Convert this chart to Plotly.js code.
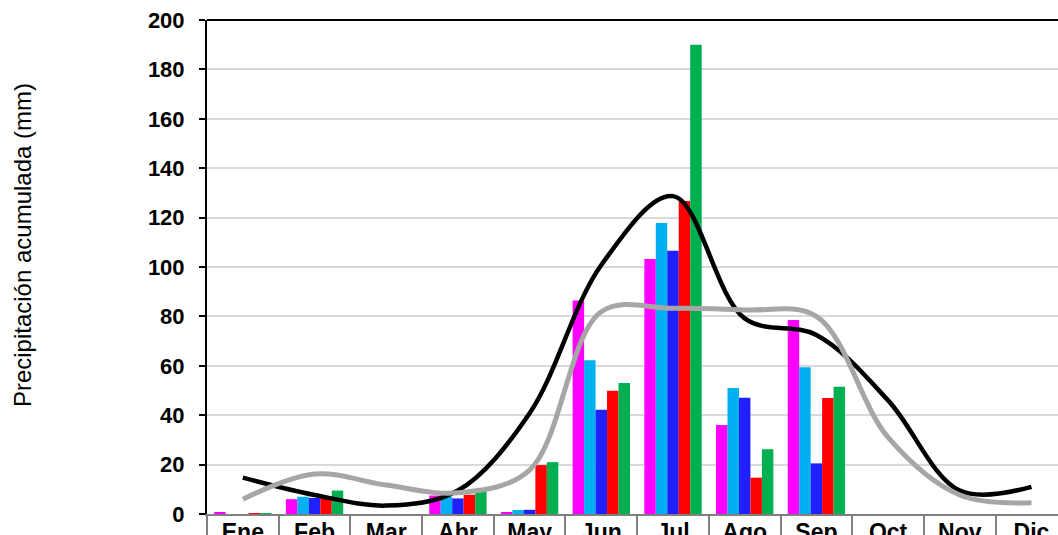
<!DOCTYPE html>
<html>
<head>
<meta charset="utf-8">
<script src="https://cdn.plot.ly/plotly-3.0.1.min.js"></script>
<style>html,body{margin:0;padding:0;background:#fff;overflow:hidden;}#chart{width:1058px;height:535px;}</style>
</head>
<body>
<div id="chart"></div>
<script>
const months = ["Ene","Feb","Mar","Abr","May","Jun","Jul","Ago","Sep","Oct","Nov","Dic"];
const serie1 = [0.8, 6, null, 7.5, 0.8, 86.4, 103.2, 36, 78.5, null, null, null];
const serie2 = [0, 7, null, 7, 1.6, 62.2, 117.8, 51, 59.4, null, null, null];
const serie3 = [0, 6.5, null, 6.3, 1.7, 42.2, 106.6, 47.1, 20.5, null, null, null];
const serie4 = [0.4, 6.5, null, 7.8, 19.8, 49.9, 126.7, 14.7, 47, null, null, null];
const serie5 = [0.4, 9.5, null, 9.8, 21, 53, 190, 26.2, 51.5, null, null, null];
const lineaNegra = [14.7, 7.7, 3.4, 9.5, 40.8, 100.8, 128.7, 79.2, 72.5, 46, 9.5, 11];
const lineaGris = [6, 16.2, 11.7, 8.6, 17.8, 81.9, 83.3, 82.6, 80, 31, 7.7, 4.6];
const yTitle = "Precipitación acumulada (mm)";

const barColors = ["#FF00FF", "#00B0F0", "#2020FF", "#FF0000", "#00B050"];
const barSeries = [serie1, serie2, serie3, serie4, serie5];
const traces = barSeries.map((s, i) => ({
  type: "bar", x: months, y: s, name: "Serie " + (i + 1),
  marker: {color: barColors[i], line: {width: 0}}, hoverinfo: "x+y"
}));
traces.push({type: "scatter", mode: "lines", x: months, y: lineaNegra, name: "Línea negra",
  line: {color: "#000000", width: 4.5, shape: "spline", smoothing: 1}});
traces.push({type: "scatter", mode: "lines", x: months, y: lineaGris, name: "Línea gris",
  line: {color: "#A6A6A6", width: 5, shape: "spline", smoothing: 1}});

const layout = {
  width: 1058, height: 535,
  margin: {l: 207, r: 0, t: 20, b: 21, pad: 0},
  paper_bgcolor: "#ffffff", plot_bgcolor: "#ffffff",
  showlegend: false,
  barmode: "group", bargap: 0.2, bargroupgap: 0,
  font: {family: "Liberation Sans, Arial, sans-serif", color: "#000"},
  xaxis: {
    type: "category", range: [-0.5, 11.37],
    showline: true, linecolor: "#808080", linewidth: 2,
    ticks: "outside", tickson: "boundaries", ticklen: 30, tickcolor: "#808080", tickwidth: 2,
    ticklabelstandoff: -4,
    tickfont: {size: 23, family: "Liberation Sans, Arial, sans-serif", color: "#000", weight: "bold"},
    showgrid: false, zeroline: false, fixedrange: true
  },
  yaxis: {
    range: [0, 200], dtick: 20, tick0: 0,
    showline: true, linecolor: "#000", linewidth: 2,
    ticks: "outside", ticklen: 6, tickcolor: "#000", tickwidth: 2,
    ticklabelstandoff: 10,
    tickfont: {size: 22, family: "Liberation Sans, Arial, sans-serif", color: "#000", weight: "bold"},
    showgrid: true, gridcolor: "#D9D9D9", gridwidth: 2,
    zeroline: false, fixedrange: true
  },
  shapes: [{type: "line", xref: "paper", yref: "paper", x0: 0, x1: 1, y0: 1, y1: 1,
    line: {color: "#000", width: 2}}],
  annotations: [{text: yTitle, xref: "paper", yref: "paper", x: -0.217, y: 0.545,
    xanchor: "center", yanchor: "middle", textangle: -90, showarrow: false,
    font: {size: 24, family: "Liberation Sans, Arial, sans-serif", color: "#000"}}]
};
Plotly.newPlot("chart", traces, layout, {displayModeBar: false, staticPlot: true});
</script>
</body>
</html>
